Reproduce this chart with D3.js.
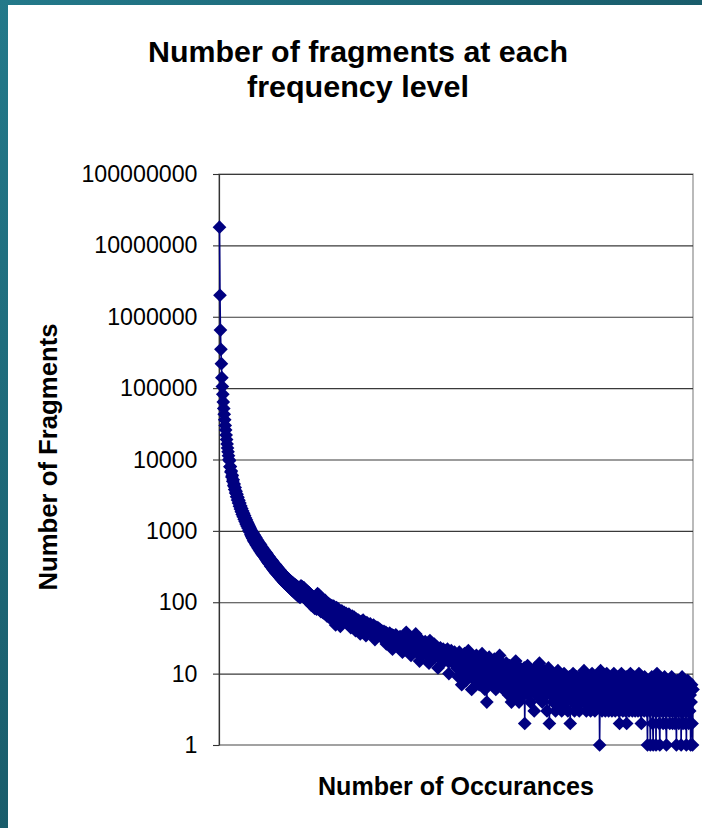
<!DOCTYPE html>
<html><head><meta charset="utf-8">
<script src="https://cdn.jsdelivr.net/npm/d3@7"></script>
<style>html,body{margin:0;padding:0;background:#fff;overflow:hidden}</style>
</head><body><svg id="c" width="702" height="828"></svg>
<script>
const titleLines = ["Number of fragments at each", "frequency level"];
const yAxisTitle = "Number of Fragments";
const xAxisTitle = "Number of Occurances";
const yTicks = [1, 10, 100, 1000, 10000, 100000, 1000000, 10000000, 100000000];
const yTickLabels = ["1", "10", "100", "1000", "10000", "100000", "1000000", "10000000", "100000000"];

// number of fragments seen at each occurrence level 1, 2, 3, ...
const counts = [
18000000,2000000,650000,350000,220000,140000,105000,82000,64000,52000,43000,36000,30000,26000,22000,19000,16500,14500,12800,11300,10000,
9600,7900,8000,6700,6900,5700,6000,4950,5200,4300,4550,3800,4050,3380,3600,3000,3250,2700,2950,2450,2680,2220,2450,2030,2240,1850,2060,1700,1900,1580,1760,1450,1640,1350,1520,1250,1420,1170,1320,1100,1240,1020,1160,960,1090,
880,1020,830,960,780,930,730,880,700,840,660,800,630,760,600,720,570,690,545,660,520,635,495,600,475,575,455,550,440,530,420,505,400,490,
380,470,365,445,350,430,340,410,320,395,310,385,295,365,285,350,275,340,262,330,
255,315,245,305,238,290,228,285,220,270,212,262,205,255,198,245,190,240,185,232,
180,225,175,218,170,212,165,205,160,200,156,195,150,190,146,185,142,180,138,176,
134,172,130,168,126,164,123,160,120,156,117,152,
170,128,165,122,158,120,160,115,152,118,148,108,145,112,140,104,138,100,132,98,
128,92,125,95,120,88,118,90,114,82,112,86,108,80,128,132,84,100,126,78,
96,120,74,98,80,108,72,96,104,70,92,106,68,90,98,64,88,72,96,62,
84,92,60,86,68,90,58,82,66,88,56,78,64,48,78,84,58,76,62,80,
54,74,60,46,74,58,76,52,
70,62,68,72,60,66,58,70,62,66,56,64,60,68,54,62,58,44,60,56,
64,52,58,55,62,50,56,40,54,58,50,55,48,56,52,46,54,36,50,48,
54,45,50,56,44,48,52,42,47,34,46,52,42,48,44,40,47,43,50,38,
44,41,46,36,42,48,38,43,30,40,45,36,42,39,44,34,40,37,42,35,
38,33,40,36,31,37,34,39,30,35,33,38,26,34,36,31,35,29,33,37,
30,34,28,32,35,22,31,34,29,33,27,31,35,28,30,26,32,29,24,30,
27,33,28,25,31,27,20,29,26,32,27,24,29,26,38,23,27,25,29,22,
26,30,24,27,18,25,28,23,26,21,29,24,22,26,36,27,20,24,28,22,
25,21,15,24,30,22,20,25,23,19,26,22,24,20,28,21,23,18,22,25,
20,23,14,21,29,19,22,20,25,18,21,23,19,26,20,17,22,19,24,18,
21,12,19,22,18,20,23,17,19,21,16,20,22,18,15,19,21,17,20,16,
19,22,15,18,10,17,20,16,18,21,15,17,19,14,18,16,20,15,17,14,
16,12,18,14,9,15,20,13,11,16,14,7,12,17,15,10,13,19,12,14,
8,13,16,11,14,21,12,9,15,13,11,17,6,12,14,10,16,12,13,8,
15,11,18,12,9,14,11,13,7,12,16,10,13,11,19,12,9,14,11,13,
6,12,15,10,4,11,14,9,12,17,10,13,8,11,14,12,7,10,13,11,
16,9,12,6,11,14,10,12,8,13,11,18,9,12,7,11,14,10,12,6,
10,8,12,7,9,14,6,10,8,11,5,9,13,7,10,8,4,11,9,7,
12,8,10,5,9,15,7,10,8,6,11,9,4,8,12,7,10,9,6,11,
8,5,9,12,2,8,10,6,9,7,13,8,5,10,7,9,4,8,11,7,
9,6,10,8,3,9,12,7,8,5,10,8,6,9,7,14,8,5,9,7,
10,4,8,6,11,7,9,5,8,10,6,3,8,7,12,6,2,8,7,9,
5,8,6,10,4,7,9,6,8,3,7,5,9,6,11,7,4,8,6,7,
5,9,3,7,6,8,5,10,6,4,7,9,5,8,6,3,7,5,9,6,
2,7,5,8,6,4,10,6,7,3,8,5,6,9,4,7,5,8,6,3,
7,5,9,6,4,8,6,5,7,11,4,6,8,5,3,7,6,9,5,4,
7,6,8,3,6,5,10,6,4,7,5,8,3,6,7,4,9,5,6,7,
4,8,1,6,11,5,7,3,6,9,5,4,7,6,3,8,5,10,4,6,
7,3,5,9,6,4,7,5,3,8,6,4,10,5,7,3,6,5,8,4,
6,9,5,3,2,6,7,4,10,5,6,3,8,5,4,7,6,3,9,2,
5,7,4,6,3,8,5,10,4,6,5,3,7,5,9,4,6,3,5,8,
4,6,7,3,5,10,4,6,5,3,2,7,5,8,4,6,3,9,5,4,
7,5,3,1,6,8,4,5,3,1,7,5,9,4,2,1,6,4,8,3,
5,1,6,10,4,3,7,5,2,1,6,4,8,3,5,7,2,4,6,9,
3,5,2,1,6,4,7,3,5,8,2,4,6,3,9,5,2,4,7,3,
5,2,6,4,1,5,8,3,6,2,4,7,3,5,1,6,9,4,2,5,
3,7,4,2,6,1,5,3,8,4,2,6,3,5,1,4,7,2,1,6
];

const W = 702, H = 828;
const M = {left: 219, right: 693, top: 174, bottom: 745};
const FONT = "'Liberation Sans', Arial, Helvetica, sans-serif";
const NAVY = "#000080";

const svg = d3.select("#c");
const defs = svg.append("defs");
const grad = defs.append("linearGradient").attr("id", "bg")
  .attr("x1", "0").attr("y1", "0").attr("x2", "1").attr("y2", "1");
grad.append("stop").attr("offset", "0").attr("stop-color", "#23798a");
grad.append("stop").attr("offset", "1").attr("stop-color", "#10404c");

svg.append("rect").attr("width", W).attr("height", H).attr("fill", "url(#bg)");
svg.append("rect").attr("x", 8).attr("y", 5).attr("width", W - 8).attr("height", H - 5).attr("fill", "#fff");

const x = d3.scaleLinear().domain([1, counts.length]).range([M.left + 0.5, M.right]);
const y = d3.scaleLog().domain([1, 1e8]).range([M.bottom, M.top]);

// plot border
svg.append("rect").attr("x", M.left).attr("y", M.top)
  .attr("width", M.right - M.left).attr("height", M.bottom - M.top)
  .attr("fill", "none").attr("stroke", "#8c8c8c").attr("stroke-width", 1.2);

// gridlines
svg.append("g").attr("transform", `translate(${M.left},0)`)
  .call(d3.axisLeft(y).tickValues(yTicks.slice(1)).tickSize(-(M.right - M.left)).tickFormat(""))
  .call(g => { g.select(".domain").remove(); g.selectAll("line").attr("stroke", "#3a3a3a").attr("stroke-width", 1.1); });

// bottom axis line
svg.append("line").attr("x1", M.left).attr("x2", M.right).attr("y1", y(1)).attr("y2", y(1))
  .attr("stroke", "#8a8a8a").attr("stroke-width", 1.2);

// left axis with ticks
const ya = svg.append("g").attr("transform", `translate(${M.left},0)`)
  .call(d3.axisLeft(y).tickValues(yTicks).tickSize(6).tickSizeOuter(0).tickFormat(""));
ya.select(".domain").attr("stroke", "#333").attr("stroke-width", 1.2);
ya.selectAll("line").attr("stroke", "#333").attr("stroke-width", 1.1);

// tick labels
const DIGIT_W = 12.9, LABEL_RIGHT = 197.5;
svg.append("g").selectAll("text").data(yTicks).join("text")
  .attr("x", (d, i) => LABEL_RIGHT - yTickLabels[i].length * DIGIT_W)
  .attr("y", d => y(d) + 8)
  .attr("textLength", (d, i) => yTickLabels[i].length * DIGIT_W)
  .attr("lengthAdjust", "spacingAndGlyphs")
  .attr("font-family", FONT).attr("font-size", 23).attr("fill", "#000")
  .text((d, i) => yTickLabels[i]);

// line + markers
const pts = counts.map((c, i) => [i + 1, c]);
svg.append("path").datum(pts)
  .attr("d", d3.line().x(d => x(d[0])).y(d => y(d[1])))
  .attr("fill", "none").attr("stroke", NAVY).attr("stroke-width", 1.6);

const diamond = d3.symbol().type(d3.symbolSquare).size(94)();
svg.append("g").selectAll("path").data(pts).join("path")
  .attr("d", diamond)
  .attr("transform", d => `translate(${x(d[0])},${y(d[1])}) rotate(45)`)
  .attr("fill", NAVY);

// titles
const titleG = svg.append("g").attr("font-family", FONT).attr("font-weight", "bold").attr("fill", "#000");
const titleLen = [420, 222];
titleLines.forEach((t, i) => {
  titleG.append("text").attr("x", 358 - titleLen[i] / 2).attr("y", 61.5 + i * 35.5)
    .attr("font-size", 30).attr("textLength", titleLen[i]).attr("lengthAdjust", "spacingAndGlyphs")
    .text(t);
});

svg.append("text").attr("x", 456 - 138).attr("y", 795)
  .attr("font-family", FONT).attr("font-weight", "bold").attr("font-size", 25)
  .attr("textLength", 276).attr("lengthAdjust", "spacingAndGlyphs")
  .text(xAxisTitle);

svg.append("text").attr("transform", "translate(57,457) rotate(-90)")
  .attr("x", -133.5).attr("y", 0)
  .attr("font-family", FONT).attr("font-weight", "bold").attr("font-size", 25)
  .attr("textLength", 267).attr("lengthAdjust", "spacingAndGlyphs")
  .text(yAxisTitle);
</script>
</body></html>
